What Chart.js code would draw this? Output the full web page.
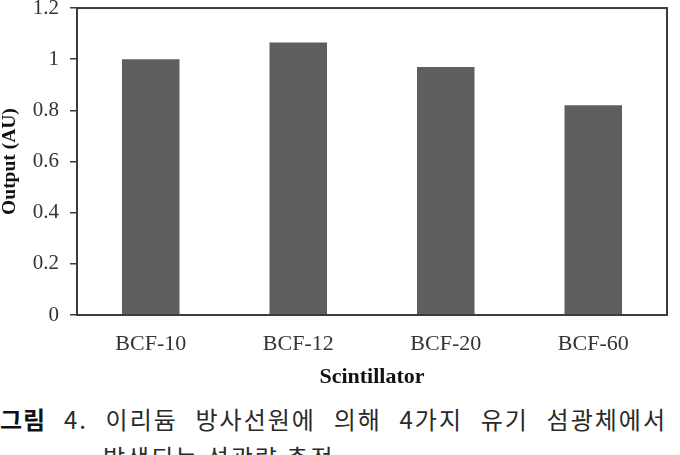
<!DOCTYPE html>
<html>
<head>
<meta charset="utf-8">
<script src="https://cdn.jsdelivr.net/npm/chart.js@4.4.1/dist/chart.umd.min.js"></script>
<style>
  html, body { margin: 0; padding: 0; background: #ffffff; }
  body { width: 680px; height: 455px; position: relative; overflow: hidden; }
  #wrap { position: absolute; left: 0; top: -4px; width: 680px; height: 399px; }
  .cap { position: absolute; font-family: "Noto Sans CJK KR", sans-serif; font-size: 24px; line-height: 28px; color: #2a2a2a; white-space: nowrap; letter-spacing: 2px; }
  #cap1 { left: 0; top: 405px; width: 667px; text-align: justify; text-align-last: justify; text-justify: inter-word; white-space: normal; }
  #cap2 { left: 103px; top: 443px; }
  .b { font-weight: bold; color: #111; letter-spacing: 1px; }
</style>
</head>
<body>
<div id="wrap"><canvas id="c" width="680" height="399"></canvas></div>
<div class="cap" id="cap1"><span class="b">그림</span> 4. 이리듐 방사선원에 의해 4가지 유기 섬광체에서</div>
<div class="cap" id="cap2">발생되는 섬광량 측정</div>
<script>
const categories = ['BCF-10', 'BCF-12', 'BCF-20', 'BCF-60'];
const outputValues = [1.0, 1.065, 0.97, 0.82];
const yTickLabels = ['0', '0.2', '0.4', '0.6', '0.8', '1', '1.2'];
const xTitle = 'Scintillator';
const yTitle = 'Output (AU)';

const frame = {
  id: 'frame',
  afterDatasetsDraw(chart) {
    const a = chart.chartArea, ctx = chart.ctx;
    ctx.save();
    ctx.strokeStyle = '#3c3c3c';
    ctx.lineWidth = 2;
    ctx.strokeRect(a.left, a.top, a.right - a.left, a.bottom - a.top);
    ctx.restore();
  }
};

new Chart(document.getElementById('c'), {
  type: 'bar',
  data: {
    labels: categories,
    datasets: [{
      data: outputValues,
      backgroundColor: '#5f5f5f',
      borderWidth: 0,
      categoryPercentage: 1,
      barPercentage: 0.39
    }]
  },
  options: {
    responsive: false,
    animation: false,
    devicePixelRatio: 1,
    layout: { padding: { left: 0, right: 13, top: 4, bottom: 0 } },
    plugins: { legend: { display: false }, tooltip: { enabled: false } },
    scales: {
      x: {
        grid: { display: false, drawTicks: false },
        border: { display: false },
        ticks: { color: '#333', padding: 18, font: { family: 'Liberation Serif', size: 22, lineHeight: 1 } },
        title: { display: true, text: xTitle, color: '#111', padding: { top: 0, bottom: 6 }, font: { family: 'Liberation Serif', size: 22, weight: 'bold', lineHeight: 1.1 } },
        afterFit(s) { s.height = 80; }
      },
      y: {
        min: 0, max: 1.2,
        grid: { drawOnChartArea: false, drawTicks: true, tickLength: 7, color: '#3c3c3c', lineWidth: 1.5 },
        border: { display: false },
        ticks: {
          stepSize: 0.2, color: '#333', padding: 11,
          font: { family: 'Liberation Serif', size: 21, lineHeight: 0.1 },
          callback: (v, i) => yTickLabels[i]
        },
        title: { display: true, text: yTitle, color: '#111', padding: 0, font: { family: 'Liberation Serif', size: 19.5, weight: 'bold', lineHeight: 1 } },
        afterFit(s) { s.width = 77; }
      }
    }
  },
  plugins: [frame]
});
</script>
</body>
</html>
